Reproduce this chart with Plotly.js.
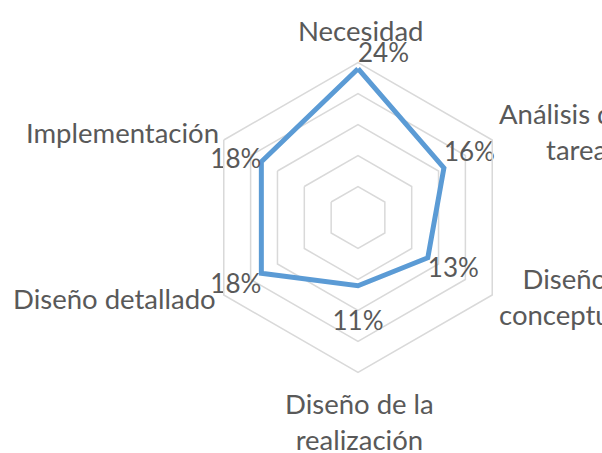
<!DOCTYPE html>
<html>
<head>
<meta charset="utf-8">
<script src="https://cdn.plot.ly/plotly-3.0.1.min.js"></script>
<style>html,body{margin:0;padding:0;background:#fff;}#chart{width:602px;height:453px;}</style>
</head>
<body>
<div id="chart"></div>
<script>
const categories = ["Necesidad", "Análisis de las tareas", "Diseño conceptual", "Diseño de la realización", "Diseño detallado", "Implementación"];
const values = [0.24, 0.16, 0.13, 0.11, 0.18, 0.18];
const valueLabels = ["24%", "16%", "13%", "11%", "18%", "18%"];
const radialTicks = [0.05, 0.10, 0.15, 0.20, 0.25];

// label layout (positions only)
const labelText = ["Necesidad", "Análisis de las<br>tareas", "Diseño<br>conceptual", "Diseño de la<br>realización", "Diseño detallado", "Implementación"];
const labelPos = [
  {x: 360, y: 30, xanchor: "center"},
  {x: 497, y: 132, xanchor: "left"},
  {x: 497, y: 296, xanchor: "left"},
  {x: 359, y: 421, xanchor: "center"},
  {x: 218, y: 298, xanchor: "right"},
  {x: 221, y: 133, xanchor: "right"}
];
const textPositions = ["top right", "top right", "bottom right", "bottom center", "bottom left", "middle left"];
const labelPad = [0, 0, 0, 38, 0, 0]; // invisible marker sizes used only to offset the value labels

const W = 602, H = 453;
const cx = 358, cy = 217.5, R = 155;
const grey = "#595959";
const fontFam = "Lato, 'Open Sans', sans-serif";

const theta = categories.concat([categories[0]]);
const r = values.concat([values[0]]);
const txt = valueLabels.concat([""]);
const tpos = textPositions.concat(["top right"]);
const msz = labelPad.concat([0]);

const trace = {
  type: "scatterpolar",
  r: r,
  theta: theta,
  mode: "lines+markers+text",
  text: txt,
  textposition: tpos,
  textfont: {family: fontFam, size: 26, color: grey},
  marker: {size: msz, opacity: 0, color: "#5B9BD5"},
  line: {color: "#5B9BD5", width: 5, shape: "linear"},
  hoverinfo: "none",
  showlegend: false,
  cliponaxis: false
};

const annotations = labelText.map((t, i) => ({
  text: t,
  xref: "paper", yref: "paper",
  x: labelPos[i].x / W,
  y: 1 - labelPos[i].y / H,
  xanchor: labelPos[i].xanchor,
  yanchor: "middle",
  align: "center",
  showarrow: false,
  font: {family: fontFam, size: 27.5, color: grey}
}));

const layout = {
  width: W, height: H,
  margin: {l: 0, r: 0, t: 0, b: 0},
  paper_bgcolor: "#ffffff",
  plot_bgcolor: "#ffffff",
  showlegend: false,
  polar: {
    domain: {x: [(cx - R) / W, (cx + R) / W], y: [(H - cy - R) / H, (H - cy + R) / H]},
    gridshape: "linear",
    bgcolor: "#ffffff",
    radialaxis: {
      range: [0, 0.25],
      tickvals: radialTicks,
      showticklabels: false,
      ticks: "",
      showline: false,
      gridcolor: "#d9d9d9",
      gridwidth: 1.5
    },
    angularaxis: {
      rotation: 90,
      direction: "clockwise",
      showgrid: false,
      showticklabels: false,
      ticks: "",
      showline: true,
      linecolor: "#d9d9d9",
      linewidth: 1.5
    }
  },
  annotations: annotations
};

Plotly.newPlot("chart", [trace], layout, {displayModeBar: false, staticPlot: true});
</script>
</body>
</html>
